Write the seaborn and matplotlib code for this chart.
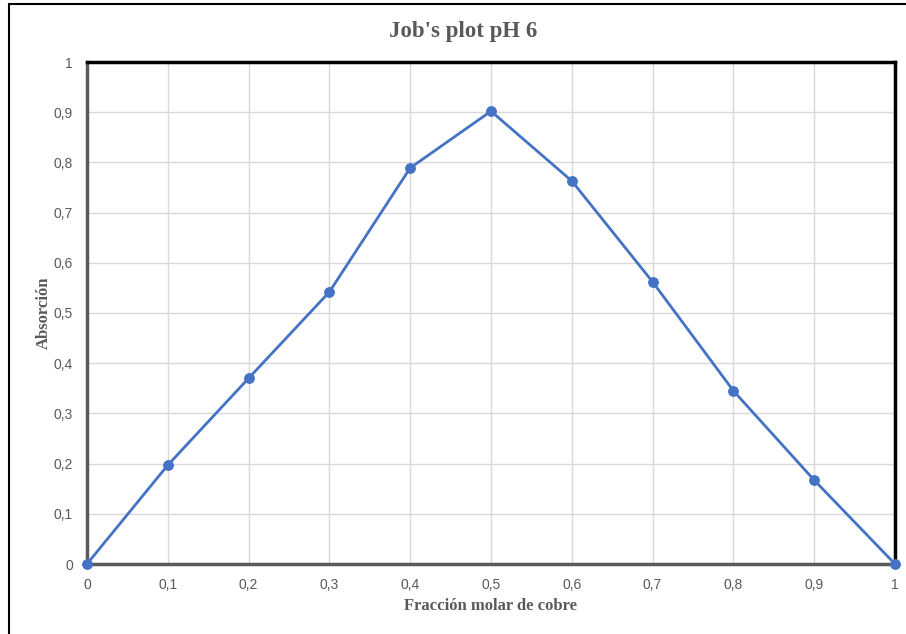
import numpy as np
import pandas as pd
import matplotlib
matplotlib.use("Agg")
import matplotlib.pyplot as plt
import seaborn as sns
from matplotlib.ticker import FuncFormatter, MultipleLocator

# Data
fraccion_molar = [0.0, 0.1, 0.2, 0.3, 0.4, 0.5, 0.6, 0.7, 0.8, 0.9, 1.0]
absorcion = [0.0, 0.197, 0.370, 0.542, 0.789, 0.902, 0.763, 0.562, 0.345, 0.167, 0.0]

titulo = "Job's plot pH 6"
etiqueta_x = "Fracción molar de cobre"
etiqueta_y = "Absorción"

df = pd.DataFrame({"x": fraccion_molar, "y": absorcion})

sns.set_style("white")
plt.rcParams['font.family'] = ['Liberation Sans', 'DejaVu Sans']

BLUE = "#4472C4"
GREY = "#595959"

fig = plt.figure(figsize=(9.06, 6.34), dpi=100)
ax = fig.add_axes([87 / 906, 1 - 564 / 634, (895 - 87) / 906, (564 - 62) / 634])

sns.lineplot(data=df, x="x", y="y", ax=ax, color=BLUE, linewidth=2,
             marker="o", markersize=7, markeredgecolor=BLUE, clip_on=False, zorder=5)

ax.set_xlim(0, 1)
ax.set_ylim(0, 1)
ax.xaxis.set_major_locator(MultipleLocator(0.1))
ax.yaxis.set_major_locator(MultipleLocator(0.1))

def coma(v, pos):
    s = f"{v:.1f}".rstrip("0").rstrip(".")
    return s.replace(".", ",")

ax.xaxis.set_major_formatter(FuncFormatter(coma))
ax.yaxis.set_major_formatter(FuncFormatter(coma))
ax.tick_params(axis="both", length=0, labelsize=10, labelcolor=GREY, pad=10)

ax.grid(True, color="#D9D9D9", linewidth=1)
ax.set_axisbelow(True)

for side in ["top", "right"]:
    ax.spines[side].set_color("black")
    ax.spines[side].set_linewidth(2.5)
for side in ["left", "bottom"]:
    ax.spines[side].set_color("#5a5a5a")
    ax.spines[side].set_linewidth(2.5)

serif = ['Liberation Serif', 'DejaVu Serif']
ax.set_xlabel(etiqueta_x, family=serif, fontweight="bold", fontsize=12, color=GREY)
ax.set_ylabel(etiqueta_y, family=serif, fontweight="bold", fontsize=12, color=GREY)
ax.xaxis.set_label_coords(0.5, -0.0837)
ax.yaxis.set_label_coords(-0.053, 0.5)
ax.xaxis.label.set_va("center")
ax.yaxis.label.set_va("center")
fig.text(463 / 906, 1 - 32 / 634, titulo, family=serif, fontweight="bold", fontsize=16.5,
         color=GREY, ha="center", va="center")

# outer frame like the reference screenshot
fig.add_artist(plt.Line2D([9 / 906, 9 / 906], [0, 1 - 4 / 634], color="black", linewidth=1.5,
                          transform=fig.transFigure))
fig.add_artist(plt.Line2D([9 / 906, 1], [1 - 4 / 634, 1 - 4 / 634], color="black", linewidth=1.5,
                          transform=fig.transFigure))

fig.savefig("out.png", dpi=100)
